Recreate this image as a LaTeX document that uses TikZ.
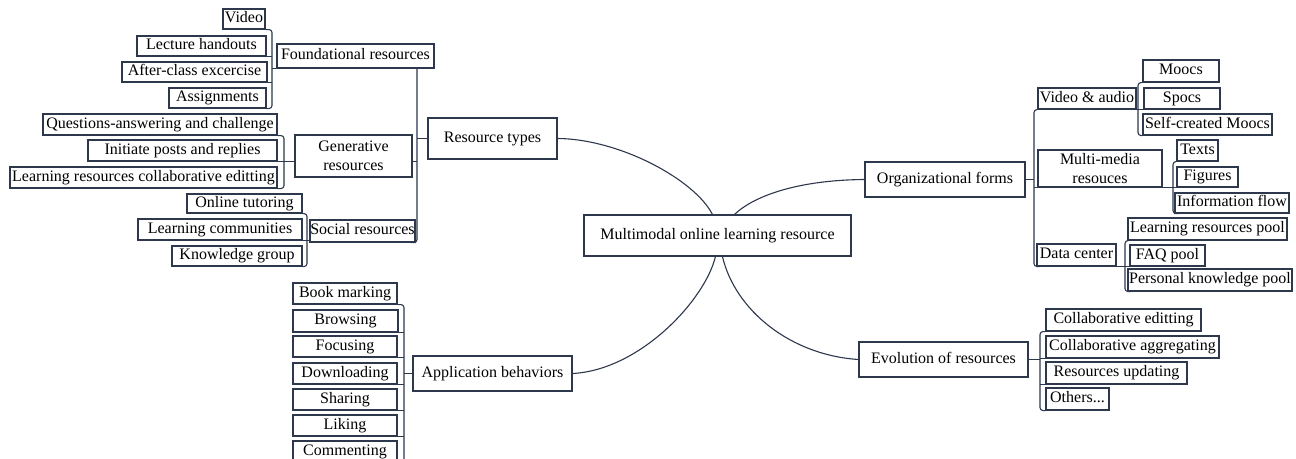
\documentclass[tikz,border=0pt]{standalone}
\usepackage{fontspec}
\setmainfont{Liberation Serif}
\definecolor{lc}{RGB}{46,56,76}
\tikzset{
  bx/.style={draw=lc, line width=1.1pt, inner sep=0pt, fill=white,
    font=\fontsize{16}{19}\selectfont, text height=11pt, text depth=3.5pt},
  bxtwo/.style={draw=lc, line width=1.1pt, inner sep=0pt, fill=white,
    font=\fontsize{16}{19}\selectfont, align=center},
  conn/.style={draw=lc, line width=1.1pt, rounded corners=3pt},
  curv/.style={draw=lc, line width=1.1pt},
}
\newcommand\mmbox[7][bx]{\node[#1, minimum width={#5pt-#3pt}, minimum height={#6pt-#4pt}] (#2) at ({(#3+#5)/2},{(#4+#6)/2}) {#7};}
\begin{document}
\begin{tikzpicture}[x=1pt,y=-1pt]
\fill[white] (0,0) rectangle (1296,458);
\useasboundingbox (0,0) rectangle (1296,458);

% bracket x positions
\coordinate (bF) at (272,0);
\coordinate (bG) at (284,0);
\coordinate (bS) at (307,0);
\coordinate (bR) at (417,0);
\coordinate (bA) at (404,0);
\coordinate (bO) at (1034,0);
\coordinate (bV) at (1138,0);
\coordinate (bM) at (1173,0);
\coordinate (bD) at (1125,0);
\coordinate (bE) at (1040,0);

% ---- nodes ----
\mmbox{video}{223}{9}{265}{29}{Video}
\mmbox{lect}{137}{36}{266}{56}{Lecture handouts}
\mmbox{after}{122}{62}{267}{82}{After-class excercise}
\mmbox{assign}{169}{88}{266}{108}{Assignments}
\mmbox{found}{277}{44}{434}{68}{Foundational resources}
\mmbox{qa}{43}{114}{277}{135}{Questions-answering and challenge}
\mmbox{init}{88}{140}{277}{161}{Initiate posts and replies}
\mmbox{lrce}{10}{167}{277}{188}{Learning resources collaborative editting}
\mmbox[bxtwo]{gen}{295}{135}{412}{177}{Generative\\resources}
\mmbox{online}{187}{194}{302}{213}{Online tutoring}
\mmbox{lcomm}{138}{219}{302}{240}{Learning communities}
\mmbox{kg}{172}{246}{302}{266}{Knowledge group}
\mmbox{social}{310}{220}{415}{242}{Social resources}
\mmbox{rt}{428}{118}{557}{159}{Resource types}
\mmbox{center}{584}{215}{851}{256}{Multimodal online learning resource}

\mmbox{bm}{293}{283}{397}{304}{Book marking}
\mmbox{brow}{293}{310}{398}{332}{Browsing}
\mmbox{foc}{293}{336}{397}{357}{Focusing}
\mmbox{down}{293}{363}{397}{384}{Downloading}
\mmbox{share}{293}{389}{397}{410}{Sharing}
\mmbox{like}{293}{415}{397}{436}{Liking}
\mmbox{comm}{293}{441}{397}{462}{Commenting}
\mmbox{app}{413}{356}{572}{391}{Application behaviors}

\mmbox{org}{865}{162}{1025}{197}{Organizational forms}
\mmbox{va}{1038}{88}{1136}{109}{Video \& audio}
\mmbox{moocs}{1143}{60}{1219}{82}{Moocs}
\mmbox{spocs}{1144}{88}{1220}{109}{Spocs}
\mmbox{scm}{1143}{114}{1272}{135}{Self-created Moocs}
\mmbox[bxtwo]{mm}{1038}{150}{1162}{187}{Multi-media\\resouces}
\mmbox{texts}{1177}{140}{1218}{161}{Texts}
\mmbox{figs}{1177}{167}{1238}{187}{Figures}
\mmbox{info}{1175}{193}{1289}{213}{Information flow}
\mmbox{dc}{1037}{244}{1116}{266}{Data center}
\mmbox{lrp}{1128}{218}{1287}{240}{Learning resources pool}
\mmbox{faq}{1130}{245}{1205}{266}{FAQ pool}
\mmbox{pkp}{1128}{269}{1292}{291}{Personal knowledge pool}
\mmbox{evo}{859}{342}{1028}{377}{Evolution of resources}
\mmbox{ce}{1046}{309}{1201}{331}{Collaborative editting}
\mmbox{ca}{1046}{336}{1219}{358}{Collaborative aggregating}
\mmbox{ru}{1046}{362}{1187}{384}{Resources updating}
\mmbox{oth}{1046}{388}{1109}{410}{Others...}

% ---- brackets ----
% Foundational
\draw[conn] (video.south east) -| (bF |- assign.south east) -- (assign.south east);
\draw[conn] (lect.south east) -- (lect.south east -| bF);
\draw[conn] (after.south east) -- (after.south east -| bF);
\draw[conn] (bF |- found.south west) -- (found.south west);
% Generative
\draw[conn] (qa.south east) -| (bG |- lrce.south east) -- (lrce.south east);
\draw[conn] (init.south east) -- (gen.west |- init.south east);
\draw[conn] (gen.east |- init.south) -- (bR |- init.south);
% Social
\draw[conn] (online.south east) -| (bS |- kg.south east) -- (kg.south east);
\draw[conn] (lcomm.south east) -- (social.west |- lcomm.south east);
% Resource types
\draw[conn] (bR |- found.south) -- (bR |- social.south) -- (social.south east);
\draw[conn] (bR |- rt.west) -- (rt.west);
% Application behaviors
\draw[conn] (bm.south east) -| (bA |- comm.south east) -- (comm.south east);
\draw[conn] (brow.south east) -- (brow.south east -| bA);
\draw[conn] (foc.south east) -- (foc.south east -| bA);
\draw[conn] (down.south east) -- (down.south east -| bA);
\draw[conn] (share.south east) -- (share.south east -| bA);
\draw[conn] (like.south east) -- (like.south east -| bA);
\draw[conn] (bA |- app.west) -- (app.west);
% Organizational forms
\draw[conn] (va.south west) -| (bO |- dc.south west) -- (dc.south west);
\draw[conn] (mm.south west) -- (mm.south west -| bO);
\draw[conn] (org.east) -- (org.east -| bO);
\draw[conn] (moocs.south west) -| (bV |- scm.south west) -- (scm.south west);
\draw[conn] (va.south east) -- (spocs.south west);
\draw[conn] (texts.south west) -| (bM |- info.south west) -- (info.south west);
\draw[conn] (mm.south east) -- (figs.south west);
\draw[conn] (lrp.south west) -| (bD |- pkp.south west) -- (pkp.south west);
\draw[conn] (dc.south east) -- (faq.south west);
% Evolution
\draw[conn] (ce.south west) -| (bE |- oth.south west) -- (oth.south west);
\draw[conn] (ca.south west) -- (ca.south west -| bE);
\draw[conn] (ru.south west) -- (ru.south west -| bE);
\draw[conn] (evo.east) -- (evo.east -| bE);

% ---- main curves ----
\draw[curv] (rt.east) .. controls (620,139) and (695,180) .. ([xshift=129pt]center.north west);
\draw[curv] ([xshift=151pt]center.north west) .. controls (755,195) and (800,180) .. (org.west);
\draw[curv] ([xshift=132pt]center.south west) .. controls (705,300) and (640,370) .. (app.east);
\draw[curv] ([xshift=139pt]center.south west) .. controls (735,310) and (790,355) .. (evo.west);
\end{tikzpicture}
\end{document}
